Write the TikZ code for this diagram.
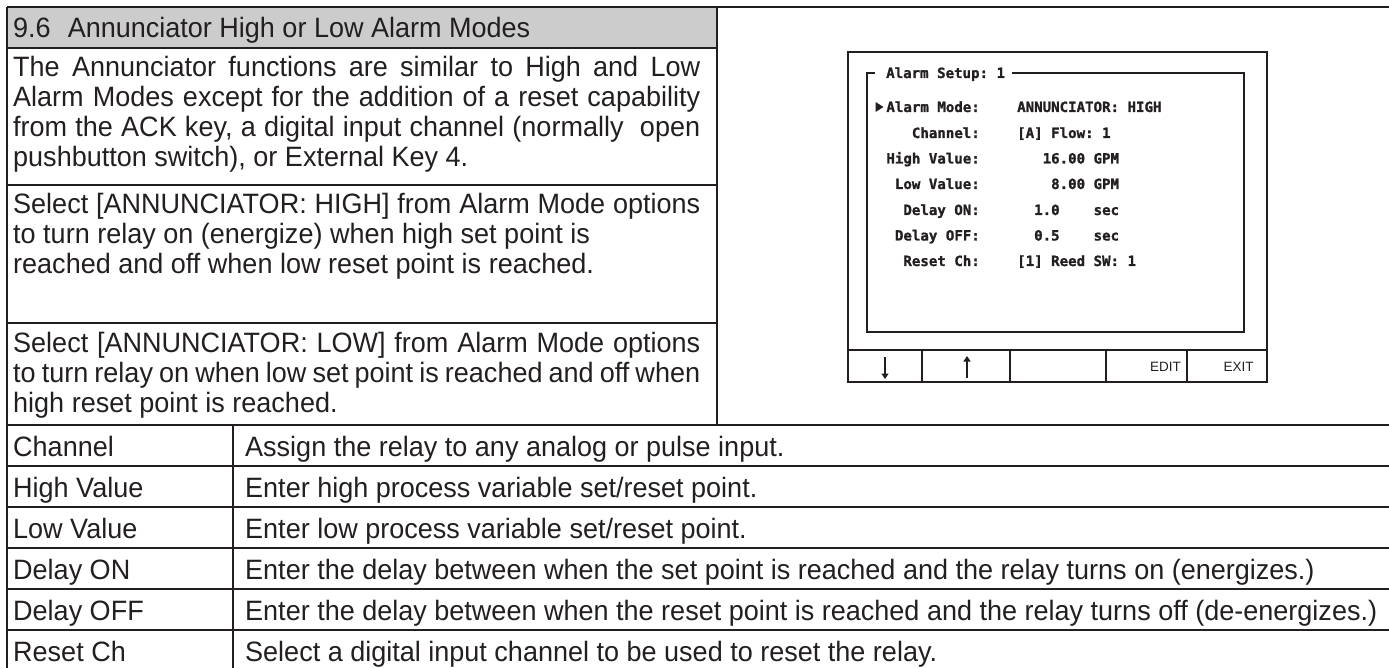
\documentclass[tikz,border=0pt]{standalone}
\usepackage{fontspec}
\setmainfont{Liberation Sans}[FakeStretch=0.965]
\newfontfamily\lcdfont{DejaVu Sans Mono Bold}[FakeBold=1.2]
\newfontfamily\keyfont{Liberation Sans}
\usetikzlibrary{arrows.meta}
\definecolor{ink}{RGB}{35,31,32}
\definecolor{band}{RGB}{204,204,204}
\frenchspacing
% a line of text stretched to the full cell width
\newcommand\justline[1]{\makebox[687pt][s]{#1}}

\begin{document}
\begin{tikzpicture}[x=1pt,y=-1pt,
  rule/.style={draw=ink,line width=2pt},
  scrframe/.style={draw=ink,line width=2.5pt},
  body/.style={anchor=base west,inner sep=0pt,text=ink,font=\fontsize{28}{30}\selectfont},
  lcd/.style={anchor=base west,inner sep=0pt,text=ink,font=\lcdfont\fontsize{14.1}{16}\selectfont},
  lcdlabel/.style={lcd,anchor=base east},
  softkey/.style={inner sep=0pt,text=ink,font=\keyfont\fontsize{13.5}{14}\selectfont},
  keyarrow/.style={ink,line width=2.6pt,-{Triangle[width=7pt,length=5.5pt]}},
]
\useasboundingbox (0,0) rectangle (1389,668);

% ---------- table grid ----------
\fill[band] (7,7.5) rectangle (717,48);
\draw[rule] (7,7.5) -- (1389,7.5);
\draw[rule] (7,7.5) -- (7,668);
\draw[rule] (717,7.5) -- (717,425);
\draw[rule] (7,48) -- (717,48);
\draw[rule] (7,185) -- (717,185);
\draw[rule] (7,323) -- (717,323);
\foreach \yy in {425,466,507,548,589,630}
  \draw[rule] (7,\yy) -- (1389,\yy);
\draw[rule] (233,425) -- (233,668);

% ---------- heading ----------
\node[body] (head) at (13,38) {9.6\hspace{17pt}Annunciator High or Low Alarm Modes};

% ---------- description paragraphs ----------
\node[body] (pa1) at (13,77)  {\justline{The Annunciator functions are similar to High and Low}};
\node[body] (pa2) at (13,107) {\justline{Alarm Modes except for the addition of a reset capability}};
\node[body] (pa3) at (13,137) {\justline{from the ACK key, a digital input channel (normally\ \ open}};
\node[body] (pa4) at (13,167) {pushbutton switch), or External Key 4.};

\node[body] (pb1) at (13,214) {\justline{Select [ANNUNCIATOR: HIGH] from Alarm Mode options}};
\node[body] (pb2) at (13,244) {to turn relay on (energize) when high set point is};
\node[body] (pb3) at (13,274) {reached and off when low reset point is reached.};

\node[body] (pc1) at (13,352) {\justline{Select [ANNUNCIATOR: LOW] from Alarm Mode options}};
\node[body] (pc2) at (13,382) {\justline{to turn relay on when low set point is reached and off when}};
\node[body] (pc3) at (13,412) {high reset point is reached.};

% ---------- parameter rows ----------
\node[body] (k1) at (13,456) {Channel};
\node[body] (k2) at (13,497) {High Value};
\node[body] (k3) at (13,538) {Low Value};
\node[body] (k4) at (13,579) {Delay ON};
\node[body] (k5) at (13,620) {Delay OFF};
\node[body] (k6) at (13,661) {Reset Ch};

\node[body] (d1) at (245,456) {Assign the relay to any analog or pulse input.};
\node[body] (d2) at (245,497) {Enter high process variable set/reset point.};
\node[body] (d3) at (245,538) {Enter low process variable set/reset point.};
\node[body] (d4) at (245,579) {Enter the delay between when the set point is reached and the relay turns on (energizes.)};
\node[body] (d5) at (245,620) {Enter the delay between when the reset point is reached and the relay turns off (de-energizes.)};
\node[body] (d6) at (245,661) {Select a digital input channel to be used to reset the relay.};

% ---------- instrument screen ----------
\draw[scrframe] (848,52) rectangle (1267,382);
\draw[scrframe] (848,350) -- (1267,350);
\foreach \xx in {922,1010,1106,1187}
  \draw[scrframe] (\xx,350) -- (\xx,382);

\node[lcd] (title) at (886,78) {Alarm Setup: 1};
\draw[ink,line width=2pt] (875,73) -- (867,73) -- (867,332) -- (1244,332) -- (1244,73) -- (1012,73);

\fill[ink] (875.5,102) -- (883.5,107) -- (875.5,112) -- cycle;

\node[lcdlabel] (l1) at (980,112)   {Alarm Mode:};
\node[lcdlabel] (l2) at (980,138)   {Channel:};
\node[lcdlabel] (l3) at (980,163.5) {High Value:};
\node[lcdlabel] (l4) at (980,189)   {Low Value:};
\node[lcdlabel] (l5) at (980,215)   {Delay ON:};
\node[lcdlabel] (l6) at (980,240.5) {Delay OFF:};
\node[lcdlabel] (l7) at (980,266)   {Reset Ch:};

\node[lcd] (v1) at (1017,112)   {ANNUNCIATOR: HIGH};
\node[lcd] (v2) at (1017,138)   {[A] Flow: 1};
\node[lcd] (v3) at (1017,163.5) {~~~16.00~GPM};
\node[lcd] (v4) at (1017,189)   {~~~~8.00~GPM};
\node[lcd] (v5) at (1017,215)   {~~1.0~~~~sec};
\node[lcd] (v6) at (1017,240.5) {~~0.5~~~~sec};
\node[lcd] (v7) at (1017,266)   {[1] Reed SW: 1};

% soft keys
\draw[keyarrow] (885,357) -- (885,379);
\draw[keyarrow] (967,378) -- (967,356);
\node[softkey] (edit) at (1165.5,367) {EDIT};
\node[softkey] (exit) at (1238.5,367) {EXIT};
\end{tikzpicture}
\end{document}
